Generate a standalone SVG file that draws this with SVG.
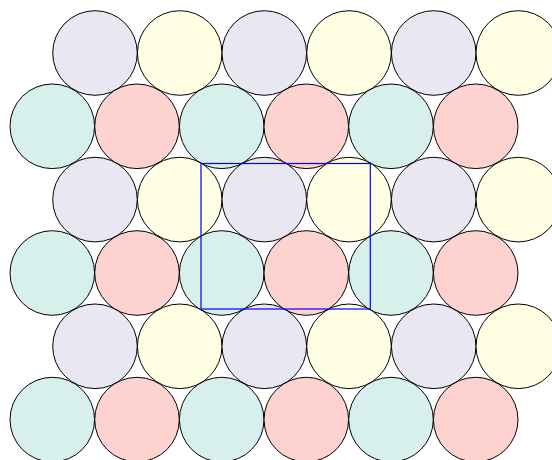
<svg xmlns="http://www.w3.org/2000/svg" width="552" height="460" viewBox="0 0 552 460">
<style>
circle{stroke:#000;stroke-width:1;r:42.3px}
.a{fill:#e8e7f2}.b{fill:#ffffe4}.c{fill:#d7f0eb}.d{fill:#fed2ce}
</style>
<rect width="552" height="460" fill="#fff"/>
<g id="row1">
<circle class="a" cx="95" cy="53"/><circle class="b" cx="179.7" cy="53"/><circle class="a" cx="264.3" cy="53"/><circle class="b" cx="349" cy="53"/><circle class="a" cx="433.7" cy="53"/><circle class="b" cx="518.3" cy="53"/>
</g>
<g id="row2">
<circle class="c" cx="52.3" cy="126.3"/><circle class="d" cx="137" cy="126.3"/><circle class="c" cx="221.7" cy="126.3"/><circle class="d" cx="306.3" cy="126.3"/><circle class="c" cx="391" cy="126.3"/><circle class="d" cx="475.7" cy="126.3"/>
</g>
<g id="row3">
<circle class="a" cx="95" cy="199.6"/><circle class="b" cx="179.7" cy="199.6"/><circle class="a" cx="264.3" cy="199.6"/><circle class="b" cx="349" cy="199.6"/><circle class="a" cx="433.7" cy="199.6"/><circle class="b" cx="518.3" cy="199.6"/>
</g>
<g id="row4">
<circle class="c" cx="52.3" cy="273"/><circle class="d" cx="137" cy="273"/><circle class="c" cx="221.7" cy="273"/><circle class="d" cx="306.3" cy="273"/><circle class="c" cx="391" cy="273"/><circle class="d" cx="475.7" cy="273"/>
</g>
<g id="row5">
<circle class="a" cx="95" cy="346.3"/><circle class="b" cx="179.7" cy="346.3"/><circle class="a" cx="264.3" cy="346.3"/><circle class="b" cx="349" cy="346.3"/><circle class="a" cx="433.7" cy="346.3"/><circle class="b" cx="518.3" cy="346.3"/>
</g>
<g id="row6">
<circle class="c" cx="52.3" cy="419.6"/><circle class="d" cx="137" cy="419.6"/><circle class="c" cx="221.7" cy="419.6"/><circle class="d" cx="306.3" cy="419.6"/><circle class="c" cx="391" cy="419.6"/><circle class="d" cx="475.7" cy="419.6"/>
</g>
<g id="cell">
<rect x="201" y="163.5" width="169.3" height="145.5" fill="none" stroke="#0000ff" stroke-width="1.2"/>
</g>
</svg>
